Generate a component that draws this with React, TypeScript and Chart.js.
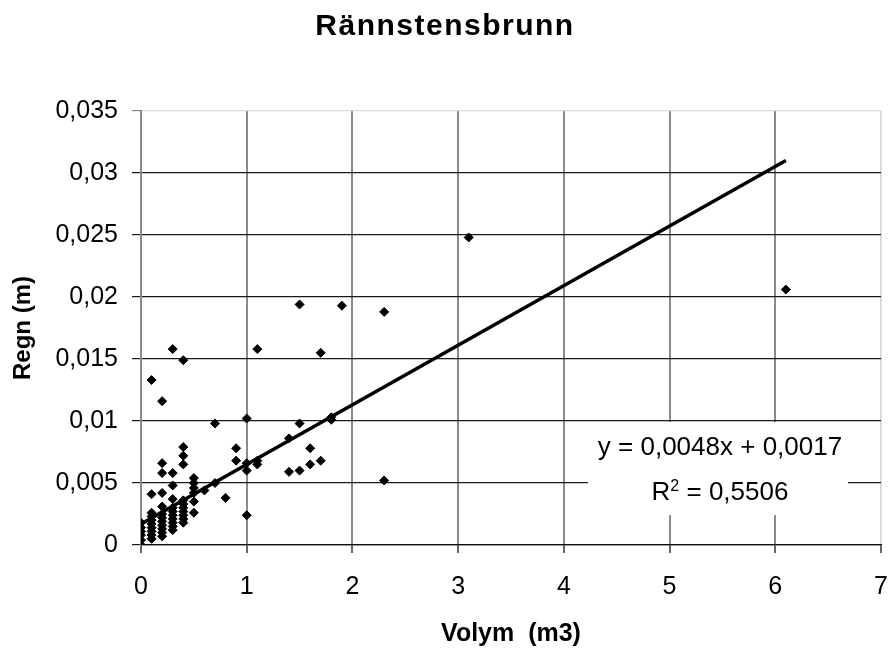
import React, { useEffect, useRef } from "react";
import { Chart, registerables } from "chart.js";

Chart.register(...registerables);

const chartTitle = "Rännstensbrunn";
const xAxisTitle = "Volym  (m3)";
const yAxisTitle = "Regn (m)";
const equationLine = "y = 0,0048x + 0,0017";
const r2Value = "0,5506";

const volume = [
  0, 0, 0, 0, 0, 0,
  0.1, 0.1, 0.1, 0.1, 0.1, 0.1, 0.1, 0.1, 0.1, 0.1,
  0.2, 0.2, 0.2, 0.2, 0.2, 0.2, 0.2, 0.2, 0.2, 0.2, 0.2, 0.2,
  0.3, 0.3, 0.3, 0.3, 0.3, 0.3, 0.3, 0.3, 0.3, 0.3, 0.3,
  0.4, 0.4, 0.4, 0.4, 0.4, 0.4, 0.4, 0.4, 0.4, 0.4, 0.4,
  0.5, 0.5, 0.5, 0.5, 0.5, 0.5,
  0.6, 0.7, 0.7, 0.8, 0.9, 0.9, 1.0, 1.0, 1.0, 1.0, 1.1, 1.1, 1.1,
  1.4, 1.4, 1.5, 1.5, 1.5, 1.6, 1.6, 1.7, 1.7, 1.8, 1.8, 1.9, 2.3, 2.3, 3.1, 6.1,
];
const rain = [
  0, 0.0004, 0.0008, 0.0011, 0.0014, 0.0018,
  0.0005, 0.0008, 0.0011, 0.0014, 0.0017, 0.002, 0.0023, 0.0026, 0.0041, 0.0133,
  0.0007, 0.001, 0.0013, 0.0016, 0.0019, 0.0022, 0.0025, 0.0031, 0.0042, 0.0058, 0.0066, 0.0116,
  0.0012, 0.0015, 0.0018, 0.0021, 0.0024, 0.0027, 0.003, 0.0037, 0.0048, 0.0058, 0.0158,
  0.0018, 0.0021, 0.0024, 0.0027, 0.003, 0.0033, 0.0036, 0.0065, 0.0072, 0.0079, 0.0149,
  0.0026, 0.0035, 0.0042, 0.0046, 0.005, 0.0054,
  0.0044, 0.005, 0.0098, 0.0038, 0.0068, 0.0078, 0.0024, 0.006, 0.0066, 0.0102, 0.0065, 0.0068, 0.0158,
  0.0059, 0.0086, 0.006, 0.0098, 0.0194, 0.0065, 0.0078, 0.0068, 0.0155, 0.0101, 0.0103, 0.0193, 0.0052, 0.0188, 0.0248, 0.0206,
];

const trendX = [0, 6.1];
const trendY = [0.0017, 0.031];

const xTickLabels = ["0", "1", "2", "3", "4", "5", "6", "7"];
const yTickLabels = ["0", "0,005", "0,01", "0,015", "0,02", "0,025", "0,03", "0,035"];

const FONT = '"Liberation Sans", Arial, sans-serif';

const overlayPlugin = {
  id: "overlay",
  afterDatasetsDraw(chart: any) {
    const ctx = chart.ctx;
    ctx.save();
    ctx.fillStyle = "#ffffff";
    ctx.fillRect(588, 422, 260, 93);
    ctx.fillStyle = "#000000";
    ctx.textBaseline = "alphabetic";
    ctx.textAlign = "center";
    ctx.font = `26px ${FONT}`;
    ctx.fillText(equationLine, 720, 455);
    const main1 = "R";
    const sup = "2";
    const main2 = " = " + r2Value;
    ctx.font = `26px ${FONT}`;
    const w1 = ctx.measureText(main1).width;
    const w3 = ctx.measureText(main2).width;
    ctx.font = `16px ${FONT}`;
    const w2 = ctx.measureText(sup).width;
    const total = w1 + w2 + w3;
    let x = 720 - total / 2;
    ctx.textAlign = "left";
    ctx.font = `26px ${FONT}`;
    ctx.fillText(main1, x, 500);
    x += w1;
    ctx.font = `16px ${FONT}`;
    ctx.fillText(sup, x, 491);
    x += w2;
    ctx.font = `26px ${FONT}`;
    ctx.fillText(main2, x, 500);
    ctx.restore();
  },
  afterDraw(chart: any) {
    const ctx = chart.ctx;
    ctx.save();
    ctx.fillStyle = "#000000";
    ctx.font = `bold 30px ${FONT}`;
    (ctx as any).letterSpacing = "1.5px";
    ctx.textAlign = "center";
    ctx.textBaseline = "alphabetic";
    ctx.fillText(chartTitle, 445, 35);
    ctx.restore();
  },
};

export default function App() {
  const canvasRef = useRef<HTMLCanvasElement | null>(null);

  useEffect(() => {
    if (!canvasRef.current) return;
    Chart.defaults.font.family = FONT;
    const points = volume.map((v, i) => ({ x: v, y: rain[i] }));
    const trend = trendX.map((v, i) => ({ x: v, y: trendY[i] }));

    const chart = new Chart(canvasRef.current, {
      type: "scatter",
      data: {
        datasets: [
          {
            label: "Regn",
            data: points,
            pointStyle: "rectRot",
            pointRadius: 4.5,
            pointBorderWidth: 1,
            backgroundColor: "#000000",
            borderColor: "#000000",
            showLine: false,
          },
          {
            label: "Trend",
            data: trend,
            showLine: true,
            pointRadius: 0,
            borderColor: "#000000",
            borderWidth: 3.5,
            backgroundColor: "#000000",
          },
        ],
      },
      options: {
        animation: false,
        responsive: false,
        maintainAspectRatio: false,
        events: [],
        layout: { padding: { left: 0, right: 8, top: 111, bottom: 0 } },
        plugins: {
          legend: { display: false },
          tooltip: { enabled: false },
          title: { display: false },
        },
        scales: {
          x: {
            type: "linear",
            min: 0,
            max: 7,
            afterFit: (scale: any) => {
              scale.height = 106;
              scale.paddingLeft = 0;
              scale.paddingRight = 0;
            },
            ticks: {
              stepSize: 1,
              color: "#000000",
              padding: 19,
              font: { size: 25, family: FONT },
              maxRotation: 0,
              callback: (_v: any, i: number) => xTickLabels[i],
            },
            grid: {
              color: (c: any) => (c.tick && c.tick.value === 7 ? "#dcdcdc" : "#8a8a8a"),
              tickColor: "#666666",
              lineWidth: 2,
              tickLength: 8,
            },
            border: { display: true, color: "#111111", width: 1.3 },
            title: {
              display: true,
              text: xAxisTitle,
              color: "#000000",
              font: { size: 25, weight: "bold", family: FONT },
              padding: { top: 0, bottom: 2 },
            },
          },
          y: {
            type: "linear",
            min: 0,
            max: 0.035,
            afterFit: (scale: any) => {
              scale.width = 141;
              scale.paddingTop = 0;
              scale.paddingBottom = 0;
            },
            ticks: {
              stepSize: 0.005,
              color: "#000000",
              padding: 14,
              font: { size: 25, family: FONT },
              callback: (_v: any, i: number) => yTickLabels[i],
            },
            grid: {
              color: (c: any) =>
                c.tick && Math.abs(c.tick.value - 0.035) < 1e-9 ? "#dcdcdc" : "#1a1a1a",
              tickColor: (c: any) =>
                c.tick && Math.abs(c.tick.value - 0.035) < 1e-9 ? "#888888" : "#1a1a1a",
              lineWidth: 1.2,
              tickLength: 9,
            },
            border: { display: true, color: "#8a8a8a", width: 2 },
            title: {
              display: true,
              text: yAxisTitle,
              color: "#000000",
              font: { size: 24, weight: "bold", family: FONT },
              padding: { top: 9, bottom: 0 },
            },
          },
        },
      },
      plugins: [overlayPlugin],
    });
    return () => chart.destroy();
  }, []);

  return (
    <div style={{ position: "fixed", left: 0, top: 0, width: 889, height: 651, background: "#ffffff" }}>
      <canvas ref={canvasRef} width={889} height={651} style={{ display: "block" }} />
    </div>
  );
}
